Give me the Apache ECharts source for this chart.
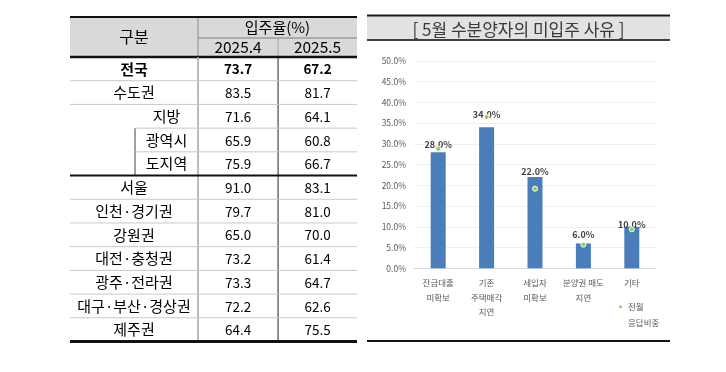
<!DOCTYPE html>
<html>
<head>
<meta charset="utf-8">
<script src="https://cdn.jsdelivr.net/npm/echarts@6/dist/echarts.min.js"></script>
<style>
  html, body { margin: 0; padding: 0; background: #fff; }
  #main { width: 726px; height: 372px; }
</style>
</head>
<body>
<div id="main"></div>
<script>
// ---------- data ----------
const tableHeader = '구분';
const rateHeader = '입주율(%)';
const periods = ['2025.4', '2025.5'];
const rowNames = ['전국', '수도권', '지방', '광역시', '도지역', '서울', '인천·경기권', '강원권', '대전·충청권', '광주·전라권', '대구·부산·경상권', '제주권'];
const aprRates = [73.7, 83.5, 71.6, 65.9, 75.9, 91.0, 79.7, 65.0, 73.2, 73.3, 72.2, 64.4];
const mayRates = [67.2, 81.7, 64.1, 60.8, 66.7, 83.1, 81.0, 70.0, 61.4, 64.7, 62.6, 75.5];

const chartTitle = '[ 5월 수분양자의 미입주 사유 ]';
const reasons = ['잔금대출\n미확보', '기존\n주택매각\n지연', '세입자\n미확보', '분양권 매도\n지연', '기타'];
const currentName = '5월 응답비중';
const prevName = '전월\n응답비중';
const currentShare = [28.0, 34.0, 22.0, 6.0, 10.0];
const prevShare = [28.8, 36.5, 19.2, 5.7, 9.4];

// ---------- layout / style (kept apart from data) ----------
const FONT = '"Noto Sans CJK KR", "Noto Sans", sans-serif';
const T = { left: 70, right: 357, headTop: 17, headMid: 38, headBottom: 57, bottom: 341.5 };
const colFrac = [0, 0.446, 0.725, 1];     // name | 2025.4 | 2025.5
const subFrac = 0.2265;                     // indent edge for sub-rows
const indentRows = [2, 3, 4];               // 지방, 광역시, 도지역
const subCellRows = [3, 4];                 // rows with own inner cell
const boldRows = [0];
const thickAfter = [4, 11];
const labelDist = [3.5, 8, 1.5, 4.5, -2];

const chart = echarts.init(document.getElementById('main'), null, { renderer: 'canvas' });

function renderTableRow(params, api) {
  const i = params.dataIndex;
  const cy = api.coord([0, i])[1];
  const h = api.size([0, 1])[1];
  const yTop = cy - h / 2, yBot = cy + h / 2;
  const X = f => api.coord([f, i])[0];
  const bold = boldRows.indexOf(i) >= 0;
  const children = [];
  children.push({ type: 'line', shape: { x1: X(colFrac[1]), y1: yTop, x2: X(colFrac[1]), y2: yBot },
    style: { stroke: '#a6a6a6', lineWidth: 1.5 } });
  children.push({ type: 'line', shape: { x1: X(colFrac[2]), y1: yTop, x2: X(colFrac[2]), y2: yBot },
    style: { stroke: '#262626', lineWidth: 1 } });
  if (subCellRows.indexOf(i) >= 0) {
    children.push({ type: 'line', shape: { x1: X(subFrac), y1: yTop, x2: X(subFrac), y2: yBot },
      style: { stroke: '#404040', lineWidth: 1 } });
  }
  const thick = thickAfter.indexOf(i) >= 0;
  const startF = (!thick && (i === 2 || i === 3)) ? subFrac : 0;
  children.push({ type: 'line', z2: thick ? 10 : 1,
    shape: { x1: X(startF), y1: yBot, x2: X(1), y2: yBot },
    style: { stroke: thick ? '#111' : '#c8c8c8', lineWidth: thick ? (i === 11 ? 3 : 2) : 1 } });
  const nameCx = indentRows.indexOf(i) >= 0 ? (X(subFrac) + X(colFrac[1])) / 2 : (X(colFrac[0]) + X(colFrac[1])) / 2;
  children.push({ type: 'text', style: { x: nameCx, y: cy, text: rowNames[i], align: 'center', verticalAlign: 'middle',
    font: (bold ? 'bold ' : '') + '15px ' + FONT, fill: '#000' } });
  children.push({ type: 'text', style: { x: (X(colFrac[1]) + X(colFrac[2])) / 2, y: cy + 0.5, text: aprRates[i].toFixed(1),
    align: 'center', verticalAlign: 'middle', font: (bold ? 'bold ' : '') + '13.5px ' + FONT, fill: '#000' } });
  children.push({ type: 'text', style: { x: (X(colFrac[2]) + X(colFrac[3])) / 2, y: cy + 0.5, text: mayRates[i].toFixed(1),
    align: 'center', verticalAlign: 'middle', font: (bold ? 'bold ' : '') + '13.5px ' + FONT, fill: '#000' } });
  return { type: 'group', children: children };
}

const nameColRight = T.left + (T.right - T.left) * colFrac[1];
const midColX = T.left + (T.right - T.left) * colFrac[2];
const graphics = [
  { type: 'rect', shape: { x: T.left, y: T.headTop, width: T.right - T.left, height: T.headBottom - T.headTop }, style: { fill: '#d9d9d9' }, z: 0 },
  { type: 'line', shape: { x1: nameColRight, y1: T.headTop, x2: nameColRight, y2: T.headBottom }, style: { stroke: '#a6a6a6', lineWidth: 1.5 } },
  { type: 'line', shape: { x1: nameColRight, y1: T.headMid, x2: T.right, y2: T.headMid }, style: { stroke: '#7f7f7f', lineWidth: 1 } },
  { type: 'line', shape: { x1: midColX, y1: T.headMid, x2: midColX, y2: T.headBottom }, style: { stroke: '#a6a6a6', lineWidth: 1 } },
  { type: 'line', shape: { x1: T.left, y1: T.headTop, x2: T.right, y2: T.headTop }, style: { stroke: '#111', lineWidth: 2 } },
  { type: 'line', shape: { x1: T.left, y1: T.headBottom, x2: T.right, y2: T.headBottom }, style: { stroke: '#111', lineWidth: 2.5 } },
  { type: 'text', style: { x: (T.left + nameColRight) / 2, y: (T.headTop + T.headBottom) / 2, text: tableHeader, align: 'center', verticalAlign: 'middle', font: '16px ' + FONT, fill: '#000' } },
  { type: 'text', style: { x: (nameColRight + T.right) / 2, y: (T.headTop + T.headMid) / 2, text: rateHeader, align: 'center', verticalAlign: 'middle', font: '15px ' + FONT, fill: '#000' } },
  { type: 'text', style: { x: (nameColRight + midColX) / 2, y: (T.headMid + T.headBottom) / 2, text: periods[0], align: 'center', verticalAlign: 'middle', font: '15.5px ' + FONT, fill: '#000' } },
  { type: 'text', style: { x: (midColX + T.right) / 2, y: (T.headMid + T.headBottom) / 2, text: periods[1], align: 'center', verticalAlign: 'middle', font: '15.5px ' + FONT, fill: '#000' } },
  { type: 'rect', shape: { x: 367, y: 15, width: 303, height: 25 }, style: { fill: '#e2e2e2' } },
  { type: 'line', shape: { x1: 367, y1: 15.5, x2: 670, y2: 15.5 }, style: { stroke: '#1a1a1a', lineWidth: 2 } },
  { type: 'line', shape: { x1: 367, y1: 40, x2: 670, y2: 40 }, style: { stroke: '#404040', lineWidth: 2 } },
  { type: 'line', shape: { x1: 367, y1: 341, x2: 670, y2: 341 }, style: { stroke: '#111', lineWidth: 2 } },
  { type: 'text', style: { x: 518.5, y: 29.5, text: chartTitle, align: 'center', verticalAlign: 'middle', font: '17px ' + FONT, fill: '#3a3a3a' } }
];

const option = {
  animation: false,
  backgroundColor: '#fff',
  textStyle: { fontFamily: FONT },
  graphic: graphics,
  legend: {
    data: [prevName],
    left: 617, top: 282.7, padding: 0,
    itemWidth: 5, itemHeight: 5, itemGap: 0,
    icon: 'circle',
    formatter: name => ' \n' + name,
    textStyle: { fontSize: 8.5, color: '#595959', lineHeight: 16, fontFamily: FONT }
  },
  grid: [
    { left: 414, right: 70, top: 61, bottom: 103.7 },
    { left: T.left, right: 726 - T.right, top: T.headBottom, bottom: 372 - T.bottom }
  ],
  xAxis: [
    { type: 'category', data: reasons, gridIndex: 0,
      axisLine: { lineStyle: { color: '#d9d9d9' } }, axisTick: { show: false },
      axisLabel: { fontSize: 8.5, color: '#595959', lineHeight: 14.5, margin: 7.5, interval: 0, fontFamily: FONT } },
    { type: 'value', gridIndex: 1, min: 0, max: 1, show: false }
  ],
  yAxis: [
    { type: 'value', gridIndex: 0, min: 0, max: 50, interval: 5,
      axisLine: { show: false }, axisTick: { show: false },
      splitLine: { lineStyle: { color: '#efefef' } },
      axisLabel: { fontSize: 8.5, color: '#595959', margin: 8, formatter: v => v.toFixed(1) + '%', fontFamily: FONT } },
    { type: 'category', gridIndex: 1, data: rowNames, inverse: true, show: false }
  ],
  series: [
    { name: currentName, type: 'bar', xAxisIndex: 0, yAxisIndex: 0, barWidth: 15,
      itemStyle: { color: '#4a7ebb' },
      data: currentShare.map((v, i) => ({ value: v, label: { distance: labelDist[i] } })),
      label: { show: true, position: 'top', fontSize: 9, fontWeight: 'bold', color: '#404040',
        formatter: p => p.value.toFixed(1) + '%', fontFamily: FONT }, z: 2 },
    { name: prevName, type: 'scatter', xAxisIndex: 0, yAxisIndex: 0, data: prevShare,
      symbol: 'circle', symbolSize: 5,
      itemStyle: { color: '#92d050', borderColor: '#fff', borderWidth: 1, opacity: 1 }, z: 3 },
    { name: 'table', type: 'custom', xAxisIndex: 1, yAxisIndex: 1,
      data: rowNames.map((n, i) => [0, i]),
      renderItem: renderTableRow, silent: true }
  ]
};
chart.setOption(option);
</script>
</body>
</html>
